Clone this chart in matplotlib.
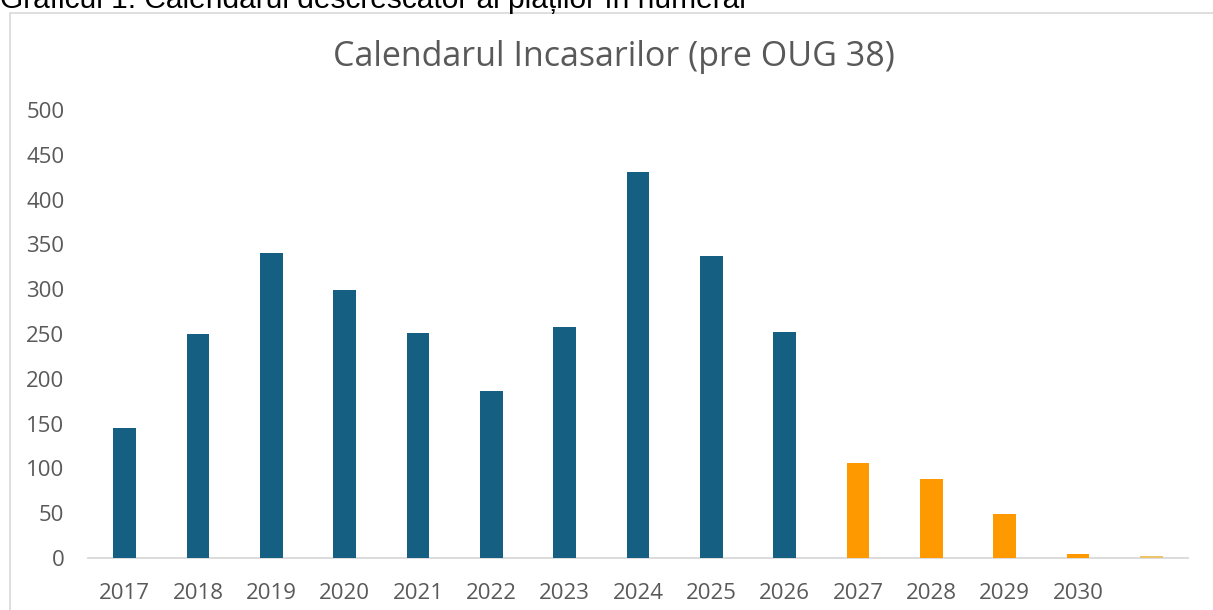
import matplotlib.pyplot as plt
from matplotlib.patches import Rectangle

years = ['2017', '2018', '2019', '2020', '2021', '2022', '2023', '2024',
         '2025', '2026', '2027', '2028', '2029', '2030', '']
values = [145, 250, 340, 299, 251, 186, 258, 431, 337, 252, 106, 88, 49, 5, 2]
colors = ['#156082'] * 10 + ['#ff9900'] * 4 + ['#eec46a']

plt.rcParams['font.family'] = ['Open Sans', 'DejaVu Sans']

fig = plt.figure(figsize=(12.13, 6.10), dpi=100)
ax = fig.add_axes([88 / 1213, 52 / 610, 1100 / 1213, 448 / 610])

x = range(len(years))
ax.bar(x, values, width=0.31, color=colors, zorder=3)
ax.set_xlim(-0.5, len(years) - 0.5)
ax.set_ylim(0, 500)
ax.set_yticks(range(0, 501, 50))
ax.set_xticks(list(x))
ax.set_xticklabels(years)

for s in ['top', 'right', 'left']:
    ax.spines[s].set_visible(False)
ax.spines['bottom'].set_color('#d9d9d9')
ax.spines['bottom'].set_linewidth(1.3)
ax.spines['bottom'].set_zorder(2)
ax.tick_params(axis='both', length=0, labelsize=16, colors='#595959')
ax.tick_params(axis='y', pad=17)
ax.tick_params(axis='x', pad=18)

fig.text(614 / 1213, 1 - 57 / 610, 'Calendarul Incasarilor (pre OUG 38)',
         ha='center', va='center', fontsize=24.5, color='#595959')

# chart frame, partly outside the picture
fig.patches.append(Rectangle((10 / 1213, -0.1), 2, 1 - 13 / 610 + 0.1,
                             transform=fig.transFigure, fill=False,
                             edgecolor='#d9d9d9', linewidth=1.2))

# caption cut off at the top
fig.text(0, 1 - 8 / 610, 'Graficul 1. Calendarul descrescator al plaților în numerar',
         ha='left', va='baseline', fontsize=21.5, color='black',
         family=['Liberation Sans', 'DejaVu Sans'])

fig.savefig('out.png', dpi=100)
